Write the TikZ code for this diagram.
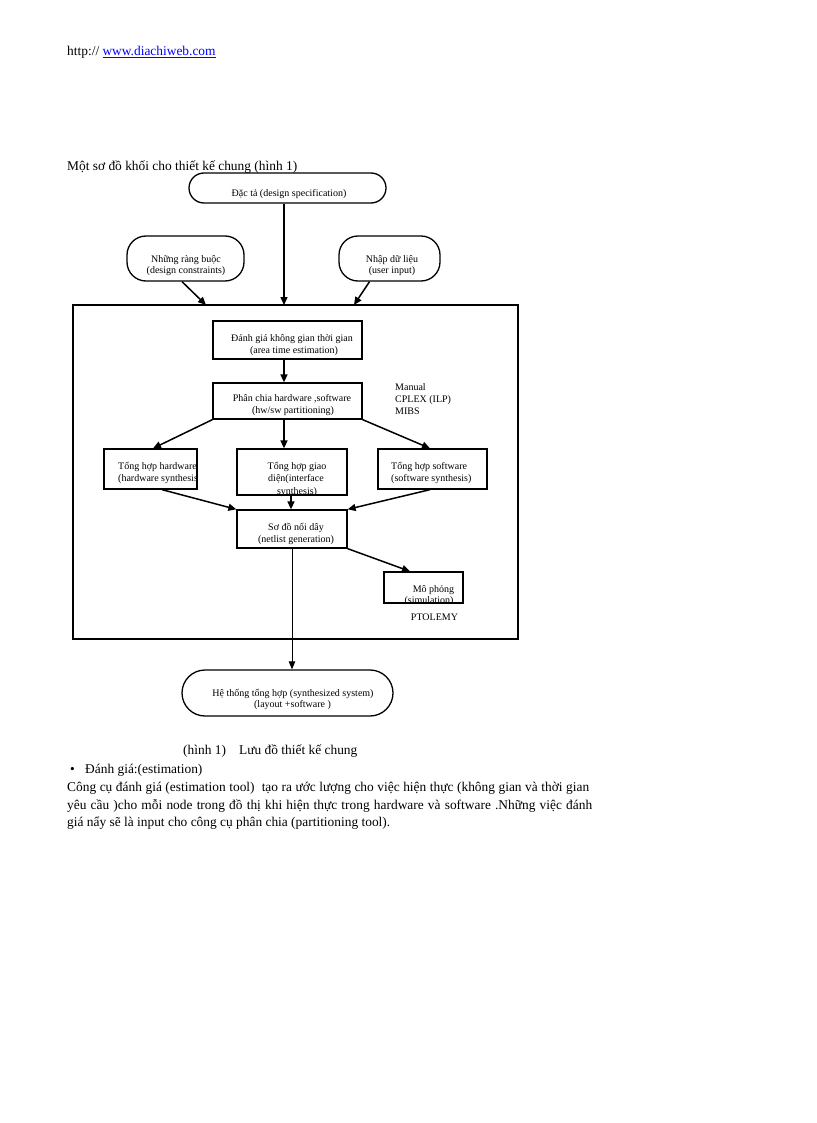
\documentclass[tikz,border=0pt]{standalone}
\usepackage{fontspec}
\setmainfont{Liberation Serif}
\usetikzlibrary{arrows.meta}
\definecolor{linkblue}{RGB}{0,0,255}
\begin{document}
\begin{tikzpicture}[x=1pt,y=-1pt,
  bodytxt/.style={font=\fontsize{13.4}{16}\selectfont, inner sep=0pt, anchor=base west},
  dtxt/.style={font=\fontsize{10}{12}\selectfont, inner sep=0pt, anchor=base},
  ltxt/.style={font=\fontsize{10}{12}\selectfont, inner sep=0pt, anchor=base west},
  boxx/.style={draw, line width=1.3pt, inner sep=0pt},
  stad/.style={draw, line width=1.3pt, inner sep=0pt},
  arr/.style={line width=1.5pt, -{Triangle[length=8pt,width=7pt]}},
  thinarr/.style={line width=1pt, -{Triangle[length=8pt,width=6.5pt]}}
]
\useasboundingbox (0,0) rectangle (816,1123);
\fill[white] (0,0) rectangle (816,1123);

% header
\node[bodytxt] (hdr) at (67,56) {http:// \textcolor{linkblue}{\underline{www.diachiweb.com}}};
\node[bodytxt] (title) at (67,171) {Một sơ đồ khối cho thiết kế chung (hình 1)};

% outer frame
\node[draw, line width=1.8pt, minimum width=445pt, minimum height=334pt, inner sep=0pt] (frame) at (295.5,472) {};

% stadiums
\node[stad, minimum width=197pt, minimum height=30pt, rounded corners=15pt] (spec) at (287.5,188) {};
\node[dtxt] (spect) at (289,196.5) {Đặc tả (design specification)};

\node[stad, minimum width=117pt, minimum height=45pt, rounded corners=19pt] (lc) at (185.5,258.5) {};
\node[dtxt] (lct1) at (186,262.5) {Những ràng buộc};
\node[dtxt] (lct2) at (186,273.5) {(design constraints)};

\node[stad, minimum width=101pt, minimum height=45pt, rounded corners=19pt] (rc) at (389.5,258.5) {};
\node[dtxt] (rct1) at (392,262.5) {Nhập dữ liệu};
\node[dtxt] (rct2) at (392,273.5) {(user input)};

\coordinate (fa) at (206,305);
\coordinate (fb) at (284,305);
\coordinate (fc) at (354,305);
\draw[arr] ([xshift=-3.5pt]lc.south) -- (fa);
\draw[arr] ([xshift=-3.5pt]spec.south) -- (fb);
\draw[arr] ([xshift=-20pt]rc.south) -- (fc);

% estimation box
\node[boxx, minimum width=149pt, minimum height=38pt] (est) at (287.5,340) {};
\node[dtxt] (estt1) at (292,341.5) {Đánh giá không gian thời gian};
\node[dtxt] (estt2) at (294,353.5) {(area time estimation)};

% partition box
\node[boxx, minimum width=149pt, minimum height=36pt] (part) at (287.5,401) {};
\node[dtxt] (partt1) at (292,401.5) {Phân chia hardware ,software};
\node[dtxt] (partt2) at (293,413.5) {(hw/sw partitioning)};

\node[ltxt] (m1) at (395,390.5) {Manual};
\node[ltxt] (m2) at (395,402.5) {CPLEX (ILP)};
\node[ltxt] (m3) at (395,414.5) {MIBS};

\draw[arr] ([xshift=-3.5pt]est.south) -- ([xshift=-3.5pt]part.north);

% synthesis boxes
\node[boxx, minimum width=93pt, minimum height=40pt] (hw) at (150.5,469) {};
\node[ltxt] (hwt1) at (118,469.5) {Tổng hợp hardware};
\node[ltxt] (hwt2) at (118,481.5) {(hardware synthesis};

\node[boxx, minimum width=110pt, minimum height=46pt] (ifc) at (292,472) {};
\node[dtxt] (ifct1) at (297,469.5) {Tổng hợp giao};
\node[dtxt] (ifct2) at (296,481.5) {diện(interface};
\node[dtxt] (ifct3) at (297,494.5) {synthesis)};

\node[boxx, minimum width=109pt, minimum height=40pt] (sw) at (432.5,469) {};
\node[ltxt] (swt1) at (391,469.5) {Tổng hợp software};
\node[ltxt] (swt2) at (391,481.5) {(software synthesis)};

\draw[arr] (part.south west) -- ([xshift=2.5pt]hw.north);
\draw[arr] ([xshift=-3.5pt]part.south) -- ([xshift=-8pt]ifc.north);
\draw[arr] (part.south east) -- ([xshift=-2.5pt]sw.north);

% netlist box
\node[boxx, minimum width=110pt, minimum height=38pt] (nl) at (292,529) {};
\node[dtxt] (nlt1) at (296,530.5) {Sơ đồ nối dây};
\node[dtxt] (nlt2) at (296,542.5) {(netlist generation)};

\draw[arr] ([xshift=11.5pt]hw.south) -- (nl.north west);
\draw[arr] ([xshift=-1pt]ifc.south) -- ([xshift=-1pt]nl.north);
\draw[arr] ([xshift=-2.5pt]sw.south) -- (nl.north east);

% simulation box
\begin{scope}
\clip (384,572) rectangle (463,603);
\node[dtxt] (simt2) at (429,603.5) {(simulation)};
\end{scope}
\node[boxx, minimum width=79pt, minimum height=31pt] (sim) at (423.5,587.5) {};
\node[dtxt] (simt1) at (433.5,592.5) {Mô phỏng};
\node[dtxt] (pto) at (434.5,620) {PTOLEMY};

\draw[arr] (nl.south east) -- ([xshift=-13.5pt]sim.north);

% synthesized system
\node[stad, minimum width=211pt, minimum height=46pt, rounded corners=23pt] (sys) at (287.5,693) {};
\node[dtxt] (syst1) at (293,696.5) {Hệ thống tổng hợp (synthesized system)};
\node[dtxt] (syst2) at (292.5,707.5) {(layout +software )};

\draw[thinarr] (nl.south) -- ([xshift=4.5pt]sys.north);

% caption and paragraph
\node[bodytxt] (cap1) at (183,754) {(hình 1)};
\node[bodytxt] (cap2) at (239,754) {Lưu đồ thiết kế chung};
\node[bodytxt] (bul) at (70,773) {•};
\node[bodytxt] (bult) at (85,773) {Đánh giá:(estimation)};
\node[bodytxt] (p1) at (67,791) {\makebox[522pt][s]{Công cụ đánh giá (estimation tool)\ \ tạo ra ước lượng cho việc hiện thực (không gian và thời gian}};
\node[bodytxt] (p2) at (67,809) {\makebox[525pt][s]{yêu cầu )cho mỗi node trong đồ thị khi hiện thực trong hardware và software .Những việc đánh}};
\node[bodytxt] (p3) at (67,826.5) {giá nẩy sẽ là input cho công cụ phân chia (partitioning tool).};
\end{tikzpicture}
\end{document}
